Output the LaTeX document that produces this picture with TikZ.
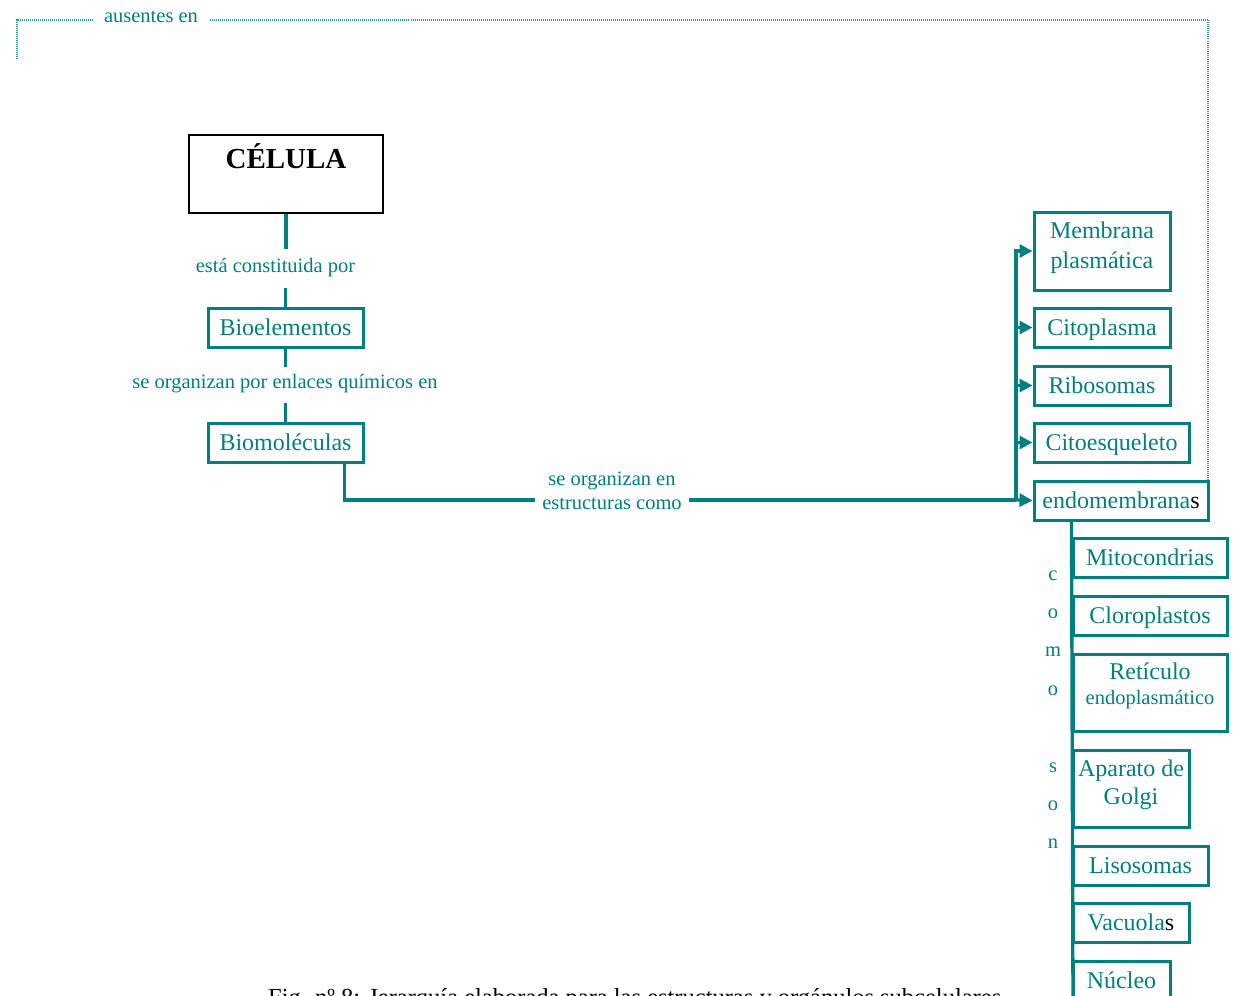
\documentclass[tikz,border=0pt]{standalone}
\usepackage{fontspec}
\setmainfont{Liberation Serif}
\usetikzlibrary{arrows.meta}
\definecolor{tealc}{RGB}{0,128,128}
\definecolor{dotc}{RGB}{40,160,160}
\begin{document}
\begin{tikzpicture}[x=1pt,y=-1pt,
  box/.style={draw=tealc,line width=3pt,text=tealc,inner sep=0pt,align=center,
    font=\fontsize{24}{29}\selectfont},
  onebox/.style={box,minimum height=39pt,text height=18pt,text depth=2pt},
  boxtext/.style={text=tealc,inner sep=0pt,align=center,font=\fontsize{24}{29}\selectfont},
  lbl/.style={text=tealc,font=\fontsize{20.5}{24}\selectfont,inner sep=0pt,align=center},
  conn/.style={draw=tealc,line width=3.3pt},
  arr/.style={conn,-{Triangle[length=13pt,width=13pt]}},
  framepath/.style={draw=dotc,line width=1.2pt,dash pattern=on 1pt off 1pt},
  letter/.style={text=tealc,font=\fontsize{20.5}{24}\selectfont,inner sep=0pt,anchor=base}]
\useasboundingbox (0,0) rectangle (1235,996);

% main chain
\node[draw=black,line width=2.6pt,minimum width=194pt,minimum height=78pt,inner sep=0pt] (celula) at (286,174) {};
\node[font=\fontsize{29}{34}\selectfont\bfseries,inner sep=0pt] (celtxt) at (286,156) {CÉLULA};
\node[onebox,minimum width=155pt] (bioel) at (285.5,327.5) {Bioelementos};
\node[onebox,minimum width=155pt] (biomol) at (285.5,442.5) {Biomoléculas};
\node[lbl] (l1) at (275.5,267.5) {está constituida por};
\node[lbl] (l2) at (285,383.5) {se organizan por enlaces químicos en};

\draw[conn] (celula.south) -- ++(0,35);
\draw[conn] (bioel.north) -- ++(0,-19);
\draw[conn] (bioel.south) -- ++(0,18);
\draw[conn] (biomol.north) -- ++(0,-19);

% structures
\node[box,minimum width=136pt,minimum height=78pt] (membr) at (1102,251) {};
\node[boxtext,font=\fontsize{24}{30}\selectfont] (membrt) at (1102,248) {Membrana\\plasmática};
\node[onebox,minimum width=136pt] (citop) at (1102,327.5) {Citoplasma};
\node[onebox,minimum width=136pt] (ribo) at (1102,385.5) {Ribosomas};
\node[onebox,minimum width=155pt] (citoe) at (1111.5,442.5) {Citoesqueleto};
\node[onebox,minimum width=174pt] (endo) at (1121,500.5) {endomembrana\textcolor{black}{s}};

\coordinate (sp) at (1016,500);
\draw[conn] ([xshift=-20pt]biomol.south east) |- (sp);
\node[lbl,fill=white,inner xsep=7pt] (l3) at (612,491) {se organizan en\\estructuras como};
\draw[arr] (sp) |- (membr.west);
\draw[arr] (sp |- citop.west) -- (citop.west);
\draw[arr] (sp |- ribo.west) -- (ribo.west);
\draw[arr] (sp |- citoe.west) -- (citoe.west);
\draw[arr] (sp) -- (endo.west);

% endomembrane system
\node[onebox,minimum width=154pt] (mito) at (1150,557.5) {Mitocondrias};
\node[onebox,minimum width=154pt] (cloro) at (1150,615.5) {Cloroplastos};
\node[box,minimum width=154pt,minimum height=77pt] (retic) at (1150,692.5) {};
\node[boxtext] (retict) at (1150,686) {Retículo\\[-4pt]{\fontsize{20.5}{24}\selectfont endoplasmático}};
\node[box,minimum width=116pt,minimum height=77pt] (golgi) at (1131,788.5) {};
\node[boxtext,font=\fontsize{24}{28}\selectfont] (golgit) at (1131,784.5) {Aparato de\\Golgi};
\node[onebox,minimum width=135pt] (liso) at (1140.5,865.5) {Lisosomas};
\node[onebox,minimum width=116pt] (vacu) at (1131,922.5) {Vacuola\textcolor{black}{s}};
\node[onebox,minimum width=97pt] (nucl) at (1121.5,980.5) {Núcleo};

\coordinate (endend) at (1073,1010);
\draw[conn] ([xshift=39pt]endo.south west) -- (endend);

\foreach \ch/\yy [count=\i] in {c/574,o/612,m/650,o/689,s/766,o/804,n/842}
  \node[letter] (como\i) at (1053,\yy+6) {\ch};

% dotted link across the top
\coordinate (fend) at (17,58);
\draw[framepath] ([xshift=-1.5pt]endo.north east) |- (17,20) -- (fend);
\node[lbl,fill=white,inner xsep=11pt,inner ysep=2pt] (l4) at (151,17) {ausentes en};

% caption
\node[anchor=base west,inner sep=0pt,font=\fontsize{24.5}{28}\selectfont] (cap) at (268,1005)
  {Fig. nº 8: Jerarquía elaborada para las estructuras y orgánulos subcelulares};
\end{tikzpicture}
\end{document}
